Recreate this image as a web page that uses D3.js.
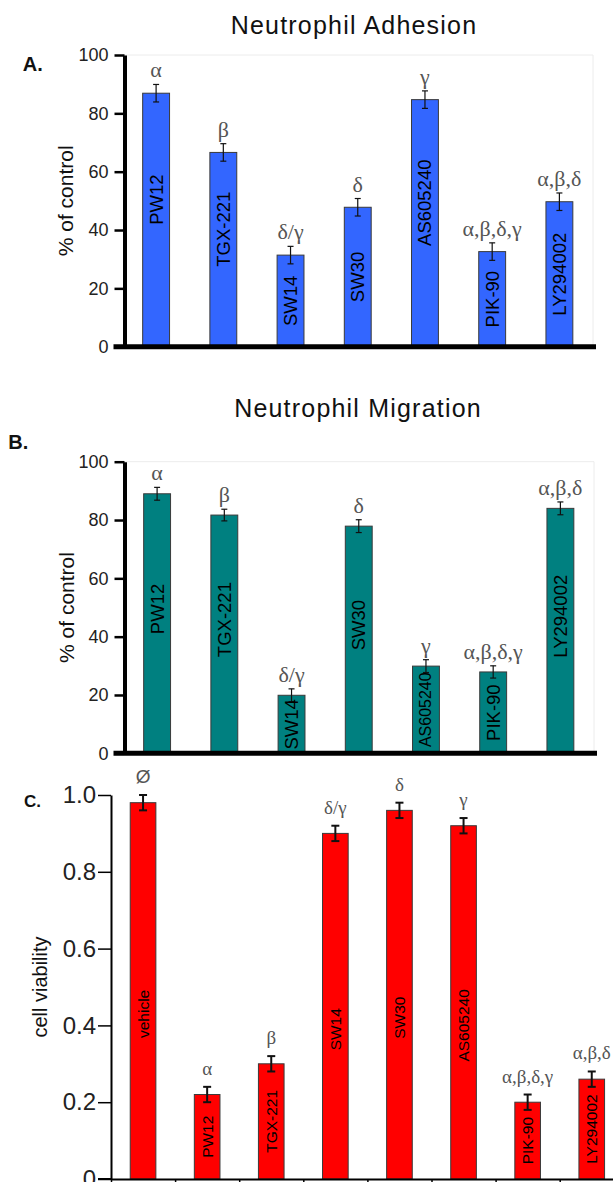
<!DOCTYPE html>
<html>
<head>
<meta charset="utf-8">
<script src="https://cdn.jsdelivr.net/npm/d3@7"></script>
<style>
  body { margin: 0; background: #fff; }
  svg text { font-family: "Liberation Sans", Arial, sans-serif; }
</style>
</head>
<body>
<div class="chart"></div>
<script>
// data
var adhesionNames = ["PW12", "TGX-221", "SW14", "SW30", "AS605240", "PIK-90", "LY294002"];
var adhesionValues = [86.9, 66.6, 31.4, 47.8, 84.7, 32.6, 49.7];
var adhesionErrors = [3, 3, 3, 3, 3, 3, 3];
var adhesionMarks = ["α", "β", "δ/γ", "δ", "γ", "α,β,δ,γ", "α,β,δ"];

var migrationNames = ["PW12", "TGX-221", "SW14", "SW30", "AS605240", "PIK-90", "LY294002"];
var migrationValues = [89, 81.7, 19.9, 77.9, 29.9, 27.9, 84];
var migrationErrors = [2.2, 2, 2.2, 2.2, 2.2, 2.1, 2.2];
var migrationMarks = ["α", "β", "δ/γ", "δ", "γ", "α,β,δ,γ", "α,β,δ"];

var viabilityNames = ["vehicle", "PW12", "TGX-221", "SW14", "SW30", "AS605240", "PIK-90", "LY294002"];
var viabilityValues = [0.98, 0.22, 0.30, 0.90, 0.96, 0.92, 0.20, 0.26];
var viabilityErrors = [0.02, 0.02, 0.02, 0.02, 0.02, 0.02, 0.02, 0.02];
var viabilityMarks = ["Ø", "α", "β", "δ/γ", "δ", "γ", "α,β,δ,γ", "α,β,δ"];

var percentTicks = [0, 20, 40, 60, 80, 100];
var viabilityTicks = [0, 0.2, 0.4, 0.6, 0.8, 1.0];

var svgWidth = 613;
var svgHeight = 1182;

var svg = d3.select(".chart")
  .append("svg")
    .attr("width", svgWidth)
    .attr("height", svgHeight);

var serif = "'Liberation Serif', 'Times New Roman', serif";

function drawPanel(p) {
  var g = svg.append("g");
  var top = p.ticks[p.ticks.length - 1];

  var rows = p.names.map(function(name, i) {
    return { name: name, value: p.values[i], err: p.errors[i], mark: p.marks[i] };
  });

  var x = d3.scaleBand()
    .domain(p.names)
    .range(p.xRange)
    .paddingInner(0.6)
    .paddingOuter(0.3);

  var y = d3.scaleLinear()
    .domain([0, top])
    .range(p.yRange);

  // faint frame (top / right) on the first two panels
  if (p.frame) {
    g.append("path")
      .attr("d", "M" + p.axisX + "," + y(top) + "H" + p.xRange[1] + "V" + y(0))
      .attr("fill", "none")
      .attr("stroke", "#ececec")
      .attr("stroke-width", 1);
  }

  // bars
  g.selectAll("rect.bar")
    .data(rows)
    .enter()
    .append("rect")
      .attr("class", "bar")
      .attr("x", function(d) { return x(d.name); })
      .attr("y", function(d) { return y(d.value); })
      .attr("width", x.bandwidth())
      .attr("height", function(d) { return y(0) - y(d.value); })
      .attr("fill", p.color)
      .attr("stroke", "#3a3a3a")
      .attr("stroke-width", 1);

  // error bars
  var eb = g.selectAll("g.err")
    .data(rows)
    .enter()
    .append("g")
      .attr("class", "err")
      .attr("stroke", "#111")
      .attr("stroke-width", p.errWidth);

  eb.append("line")
    .attr("x1", function(d) { return x(d.name) + x.bandwidth() / 2; })
    .attr("x2", function(d) { return x(d.name) + x.bandwidth() / 2; })
    .attr("y1", function(d) { return y(d.value - d.err); })
    .attr("y2", function(d) { return y(d.value + d.err); });

  [1, -1].forEach(function(s) {
    eb.append("line")
      .attr("x1", function(d) { return x(d.name) + x.bandwidth() / 2 - p.capHalf; })
      .attr("x2", function(d) { return x(d.name) + x.bandwidth() / 2 + p.capHalf; })
      .attr("y1", function(d) { return y(d.value + s * d.err); })
      .attr("y2", function(d) { return y(d.value + s * d.err); });
  });

  // greek significance marks
  g.selectAll("text.mark")
    .data(rows)
    .enter()
    .append("text")
      .attr("class", "mark")
      .attr("x", function(d) { return x(d.name) + x.bandwidth() / 2; })
      .attr("y", function(d) { return y(d.value + d.err) - p.markGap; })
      .attr("text-anchor", "middle")
      .attr("fill", "#555")
      .style("font-family", function(d) { return d.mark === "Ø" ? null : serif; })
      .attr("font-size", p.markFont)
      .text(function(d) { return d.mark; });

  // rotated names inside bars (tall bars get their name nudged)
  g.selectAll("text.name")
    .data(rows)
    .enter()
    .append("text")
      .attr("class", "name")
      .attr("transform", function(d) {
        var at = d.value / 2 + (d.value > 0.6 * top ? p.nameLift : 0);
        return "translate(" + (x(d.name) + x.bandwidth() / 2) + "," + y(at) + ") rotate(-90)";
      })
      .attr("text-anchor", "middle")
      .attr("dominant-baseline", "central")
      .attr("fill", "#000")
      .attr("font-size", p.nameFont)
      .text(function(d) { return d.name; })
      .each(function(d) {
        // shrink the text when the bar is too short for it
        var room = y(0) - y(d.value) - 4;
        if (this.getComputedTextLength() > room) d3.select(this).attr("font-size", p.nameFont - 2.5);
      });

  // y axis
  var yAxis = d3.axisLeft(y)
    .tickValues(p.ticks)
    .tickSize(p.tickSize)
    .tickSizeOuter(0)
    .tickPadding(p.tickPadding)
    .tickFormat(p.format);

  var ay = g.append("g")
    .attr("transform", "translate(" + p.axisX + ",0)")
    .call(yAxis);
  ay.select(".domain").attr("stroke", "#000").attr("stroke-width", p.axisWidth);
  ay.selectAll(".tick line").attr("stroke", "#000").attr("stroke-width", p.tickWidth);
  ay.selectAll(".tick text")
    .attr("fill", "#222")
    .attr("font-size", p.tickFont)
    .style("font-family", "'Liberation Sans', Arial, sans-serif");

  // x axis
  if (p.edgeTicks) {
    var edge = d3.scaleLinear().domain([0, p.names.length]).range(p.xRange);
    var ax = g.append("g")
      .attr("transform", "translate(0," + y(0) + ")")
      .call(d3.axisBottom(edge)
        .tickValues(d3.range(p.names.length + 1))
        .tickSize(8)
        .tickSizeOuter(0)
        .tickFormat(""));
    ax.select(".domain").attr("stroke", "#000").attr("stroke-width", 2);
    ax.selectAll(".tick line").attr("stroke", "#000").attr("stroke-width", 1.5);
    g.append("line")
      .attr("x1", p.axisX - p.tickSize)
      .attr("x2", p.axisX)
      .attr("y1", y(0))
      .attr("y2", y(0))
      .attr("stroke", "#000")
      .attr("stroke-width", 2);
  } else {
    g.append("line")
      .attr("x1", p.axisX - p.tickSize - 1)
      .attr("x2", p.xRange[1] + 3)
      .attr("y1", y(0))
      .attr("y2", y(0))
      .attr("stroke", "#000")
      .attr("stroke-width", 5);
  }

  // y axis label
  g.append("text")
    .attr("transform", "translate(" + p.labelX + "," + (p.yRange[0] + p.yRange[1]) / 2 + ") rotate(-90)")
    .attr("text-anchor", "middle")
    .attr("dominant-baseline", "central")
    .attr("font-size", p.labelFont)
    .attr("fill", "#111")
    .text(p.yLabel);

  // panel letter
  g.append("text")
    .attr("x", p.letterX)
    .attr("y", p.letterY)
    .attr("font-size", p.letterFont)
    .attr("font-weight", "bold")
    .attr("fill", "#111")
    .text(p.letter);

  // title
  if (p.title) {
    g.append("text")
      .attr("x", p.titleX)
      .attr("y", p.titleY)
      .attr("text-anchor", "middle")
      .attr("font-size", 25)
      .attr("letter-spacing", 1.2)
      .attr("fill", "#111")
      .text(p.title);
  }
}

var pctFormat = d3.format("d");
var vFormat = function(d) { return d === 0 ? "0" : d3.format(".1f")(d); };

// A. Neutrophil Adhesion
drawPanel({
  names: adhesionNames, values: adhesionValues, errors: adhesionErrors, marks: adhesionMarks,
  ticks: percentTicks, format: pctFormat,
  xRange: [122.5, 593], yRange: [346.7, 55],
  axisX: 124.5, axisWidth: 4, tickSize: 10, tickWidth: 2.5, tickPadding: 6, tickFont: 18,
  color: "#3366ff", frame: true, edgeTicks: false,
  errWidth: 1.2, capHalf: 3, markGap: 7, markFont: 22, nameFont: 18.5, nameLift: 7,
  yLabel: "% of control", labelX: 65.5, labelFont: 21,
  letter: "A.", letterX: 22.7, letterY: 70.7, letterFont: 20,
  title: "Neutrophil Adhesion", titleX: 354, titleY: 34.3
});

// B. Neutrophil Migration
drawPanel({
  names: migrationNames, values: migrationValues, errors: migrationErrors, marks: migrationMarks,
  ticks: percentTicks, format: pctFormat,
  xRange: [123.5, 594], yRange: [753.3, 461.7],
  axisX: 124.5, axisWidth: 4, tickSize: 10, tickWidth: 2.5, tickPadding: 6, tickFont: 18,
  color: "#008080", frame: true, edgeTicks: false,
  errWidth: 1.2, capHalf: 3, markGap: 7, markFont: 22, nameFont: 18.5, nameLift: 5,
  yLabel: "% of control", labelX: 66, labelFont: 21,
  letter: "B.", letterX: 8.3, letterY: 449.3, letterFont: 20,
  title: "Neutrophil Migration", titleX: 358, titleY: 416.7
});

// C. cell viability
drawPanel({
  names: viabilityNames, values: viabilityValues, errors: viabilityErrors, marks: viabilityMarks,
  ticks: viabilityTicks, format: vFormat,
  xRange: [111, 623.8], yRange: [1179, 795],
  axisX: 111, axisWidth: 2, tickSize: 13, tickWidth: 1.5, tickPadding: 2, tickFont: 24,
  color: "#ff0000", frame: false, edgeTicks: true,
  errWidth: 2, capHalf: 4, markGap: 12, markFont: 19, nameFont: 15.5, nameLift: -0.06,
  yLabel: "cell viability", labelX: 40, labelFont: 20,
  letter: "C.", letterX: 24, letterY: 806.7, letterFont: 17,
  title: null
});
</script>
</body>
</html>
